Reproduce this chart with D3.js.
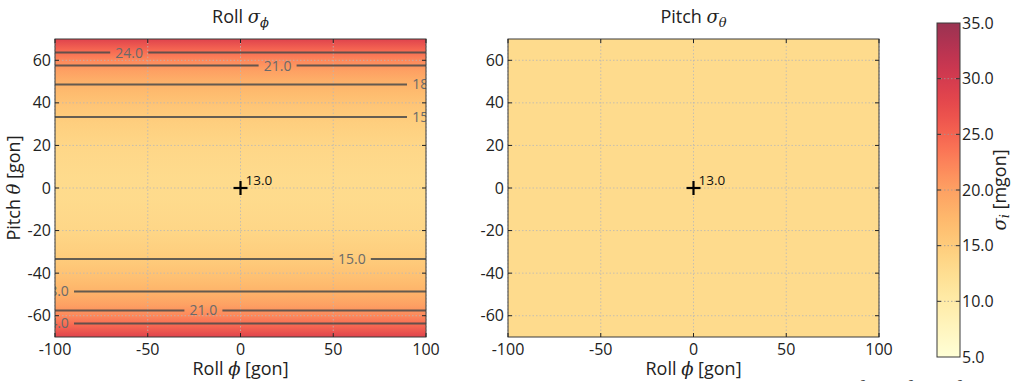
<!DOCTYPE html>
<html>
<head>
<meta charset="utf-8">
<script src="https://cdn.jsdelivr.net/npm/d3@7"></script>
<style>
  body { margin: 0; background: #fff; }
  svg { display: block; }
  text { font-family: "Open Sans", "DejaVu Sans", sans-serif; }
  .math { font-family: "DejaVu Serif", "Liberation Serif", serif; font-style: italic; }
</style>
</head>
<body>
<svg id="chart" width="1014" height="381"></svg>
<script>
// ---------- data ----------
const pitchSamples = [-70, -65, -60, -55, -50, -45, -40, -35, -30, -25, -20, -15, -10, -5, 0,
                      5, 10, 15, 20, 25, 30, 35, 40, 45, 50, 55, 60, 65, 70];
const rollSigma = [28.6, 24.9, 22.1, 20.0, 18.4, 17.1, 16.1, 15.3, 14.6, 14.1, 13.7, 13.4, 13.2, 13.0, 13.0,
                   13.0, 13.2, 13.4, 13.7, 14.1, 14.6, 15.3, 16.1, 17.1, 18.4, 20.0, 22.1, 24.9, 28.6];
const pitchSigma = 13.0;             // uniform field in the right panel
const centerValue = 13.0;            // value at the (0,0) marker
const contourLevels = [15, 18, 21, 24];
const contourPitchUpper = [33.3, 48.6, 57.5, 63.6];
const contourPitchLower = [-33.3, -48.6, -57.5, -63.6];
const labelRollUpper = [100, 100, 20, -60];
const labelRollLower = [60, -100, -20, -100];
const xTicks = [-100, -50, 0, 50, 100];
const yTicks = [-60, -40, -20, 0, 20, 40, 60];
const cbTicks = [5, 10, 15, 20, 25, 30, 35];
const xDomain = [-100, 100];
const yDomain = [-70, 70];
const cDomain = [5, 35];

// ---------- layout ----------
const svg = d3.select("#chart");
const panels = [
  { x0: 55, x1: 426, title: "Roll", sub: "ϕ", kind: "roll" },
  { x0: 508, x1: 879, title: "Pitch", sub: "θ", kind: "pitch" }
];
const yTop = 39, yBot = 337;
const alpha = 0.8;
const color = d3.scaleSequential(d3.interpolateYlOrRd).domain(cDomain);
const y = d3.scaleLinear().domain(yDomain).range([yBot, yTop]);
const defs = svg.append("defs");
const FS = 16;
const LFS = 18;

panels.forEach((p, i) => {
  const x = d3.scaleLinear().domain(xDomain).range([p.x0, p.x1]);
  const g = svg.append("g");
  const clipId = "clip" + i;
  defs.append("clipPath").attr("id", clipId).append("rect")
    .attr("x", p.x0).attr("y", yTop).attr("width", p.x1 - p.x0).attr("height", yBot - yTop);

  // field
  if (p.kind === "roll") {
    const grad = defs.append("linearGradient").attr("id", "grad" + i)
      .attr("gradientUnits", "userSpaceOnUse")
      .attr("x1", 0).attr("x2", 0).attr("y1", y(yDomain[1])).attr("y2", y(yDomain[0]));
    const stops = pitchSamples.map((pv, k) => ({
      off: (y(pv) - y(yDomain[1])) / (y(yDomain[0]) - y(yDomain[1])),
      c: color(rollSigma[k])
    })).sort((a, b) => a.off - b.off);
    stops.forEach(s => grad.append("stop").attr("offset", s.off).attr("stop-color", s.c));
    g.append("rect").attr("x", p.x0).attr("y", yTop).attr("width", p.x1 - p.x0).attr("height", yBot - yTop)
      .attr("fill", `url(#grad${i})`).attr("fill-opacity", alpha);
  } else {
    g.append("rect").attr("x", p.x0).attr("y", yTop).attr("width", p.x1 - p.x0).attr("height", yBot - yTop)
      .attr("fill", color(pitchSigma)).attr("fill-opacity", alpha);
  }

  // grid
  const grid = g.append("g").attr("stroke", "#b8b8b8").attr("stroke-width", 0.8).attr("stroke-dasharray", "1.5,2");
  xTicks.forEach(t => grid.append("line").attr("x1", x(t)).attr("x2", x(t)).attr("y1", yTop).attr("y2", yBot));
  yTicks.forEach(t => grid.append("line").attr("x1", p.x0).attr("x2", p.x1).attr("y1", y(t)).attr("y2", y(t)));

  // contours (roll panel)
  if (p.kind === "roll") {
    const cg = g.append("g").attr("clip-path", `url(#${clipId})`);
    const gap = 19;
    const drawContour = (pv, lv, lr) => {
      const yy = y(pv), lx = x(lr);
      const segs = [[p.x0 - 5, lx - gap], [lx + gap, p.x1 + 5]];
      segs.forEach(s => {
        if (s[1] > s[0]) cg.append("line").attr("x1", s[0]).attr("x2", s[1]).attr("y1", yy).attr("y2", yy)
          .attr("stroke", "#4a4a4a").attr("stroke-opacity", 0.85).attr("stroke-width", 2);
      });
      cg.append("text").attr("x", lx).attr("y", yy).attr("dy", "0.35em").attr("text-anchor", "middle")
        .attr("font-size", 14).attr("fill", "#6a6a6a").text(d3.format(".1f")(lv));
    };
    contourLevels.forEach((lv, k) => {
      drawContour(contourPitchUpper[k], lv, labelRollUpper[k]);
      drawContour(contourPitchLower[k], lv, labelRollLower[k]);
    });
  }

  // frame
  g.append("rect").attr("x", p.x0).attr("y", yTop).attr("width", p.x1 - p.x0).attr("height", yBot - yTop)
    .attr("fill", "none").attr("stroke", "#3a3a3a").attr("stroke-width", 1);

  // ticks inward on all sides
  const tk = g.append("g").attr("stroke", "#222").attr("stroke-width", 1);
  const tl = 4;
  xTicks.forEach(t => {
    tk.append("line").attr("x1", x(t)).attr("x2", x(t)).attr("y1", yBot).attr("y2", yBot - tl);
    tk.append("line").attr("x1", x(t)).attr("x2", x(t)).attr("y1", yTop).attr("y2", yTop + tl);
  });
  yTicks.forEach(t => {
    tk.append("line").attr("x1", p.x0).attr("x2", p.x0 + tl).attr("y1", y(t)).attr("y2", y(t));
    tk.append("line").attr("x1", p.x1).attr("x2", p.x1 - tl).attr("y1", y(t)).attr("y2", y(t));
  });

  // tick labels
  xTicks.forEach(t => g.append("text").attr("x", x(t)).attr("y", yBot + 18).attr("text-anchor", "middle")
    .attr("font-size", FS).attr("fill", "#222").text(d3.format("d")(t).replace("−", "-")));
  yTicks.forEach(t => g.append("text").attr("x", p.x0 - 4).attr("y", y(t)).attr("dy", "0.35em")
    .attr("text-anchor", "end").attr("font-size", FS).attr("fill", "#222").text(d3.format("d")(t).replace("−", "-")));

  // marker
  const cx = x(0), cy = y(0), ms = 7;
  g.append("line").attr("x1", cx - ms).attr("x2", cx + ms).attr("y1", cy).attr("y2", cy).attr("stroke", "#000").attr("stroke-width", 2.2);
  g.append("line").attr("x1", cx).attr("x2", cx).attr("y1", cy - ms).attr("y2", cy + ms).attr("stroke", "#000").attr("stroke-width", 2.2);
  g.append("text").attr("x", cx + 5).attr("y", cy - 3).attr("font-size", 13.5).attr("fill", "#111")
    .text(d3.format(".1f")(centerValue));

  // title
  const tt = g.append("text").attr("x", (p.x0 + p.x1) / 2).attr("y", 23).attr("text-anchor", "middle")
    .attr("font-size", LFS).attr("fill", "#222");
  tt.append("tspan").text(p.title + " ");
  tt.append("tspan").attr("class", "math").text("σ");
  tt.append("tspan").attr("class", "math").attr("font-size", 13).attr("dy", 4).text(p.sub);

  // x label
  const xl = g.append("text").attr("x", (p.x0 + p.x1) / 2).attr("y", 375).attr("text-anchor", "middle")
    .attr("font-size", LFS).attr("fill", "#222");
  xl.append("tspan").text("Roll ");
  xl.append("tspan").attr("class", "math").text("ϕ");
  xl.append("tspan").text(" [gon]");

  if (i === 0) {
    const yl = g.append("text").attr("transform", `translate(20,${(yTop + yBot) / 2}) rotate(-90)`)
      .attr("text-anchor", "middle").attr("font-size", LFS).attr("fill", "#222");
    yl.append("tspan").text("Pitch ");
    yl.append("tspan").attr("class", "math").text("θ");
    yl.append("tspan").text(" [gon]");
  }
});

// ---------- colorbar ----------
const cbX = 937, cbW = 23, cbTop = 23, cbBot = 357;
const cy2 = d3.scaleLinear().domain(cDomain).range([cbBot, cbTop]);
const cbGrad = defs.append("linearGradient").attr("id", "cbgrad").attr("gradientUnits", "userSpaceOnUse")
  .attr("x1", 0).attr("x2", 0).attr("y1", cbBot).attr("y2", cbTop);
d3.range(0, 1.0001, 0.02).forEach(f => {
  cbGrad.append("stop").attr("offset", f).attr("stop-color", color(cDomain[0] + f * (cDomain[1] - cDomain[0])));
});
svg.append("rect").attr("x", cbX).attr("y", cbTop).attr("width", cbW).attr("height", cbBot - cbTop)
  .attr("fill", "url(#cbgrad)").attr("fill-opacity", alpha);
const cbg = svg.append("g");
cbTicks.slice(1, -1).forEach(t => {
  cbg.append("line").attr("x1", cbX).attr("x2", cbX + cbW).attr("y1", cy2(t)).attr("y2", cy2(t))
    .attr("stroke", "#999").attr("stroke-width", 0.8).attr("stroke-dasharray", "1.5,2");
  cbg.append("line").attr("x1", cbX).attr("x2", cbX + 4).attr("y1", cy2(t)).attr("y2", cy2(t)).attr("stroke", "#333");
  cbg.append("line").attr("x1", cbX + cbW - 4).attr("x2", cbX + cbW).attr("y1", cy2(t)).attr("y2", cy2(t)).attr("stroke", "#333");
});
svg.append("rect").attr("x", cbX).attr("y", cbTop).attr("width", cbW).attr("height", cbBot - cbTop)
  .attr("fill", "none").attr("stroke", "#3a3a3a").attr("stroke-width", 1);
cbTicks.forEach(t => cbg.append("text").attr("x", cbX + cbW + 2).attr("y", cy2(t)).attr("dy", "0.35em")
  .attr("font-size", FS).attr("fill", "#222").text(d3.format(".1f")(t)));
const cl = svg.append("text").attr("transform", `translate(1006,${(cbTop + cbBot) / 2}) rotate(-90)`)
  .attr("text-anchor", "middle").attr("font-size", LFS).attr("fill", "#222");
cl.append("tspan").attr("class", "math").text("σ");
cl.append("tspan").attr("class", "math").attr("font-size", 13).attr("dy", 3).text("i");
cl.append("tspan").attr("dy", -3).text(" [mgon]");

// cut-off superscripts at the bottom edge
[860, 908, 957].forEach(xx => svg.append("text").attr("x", xx).attr("y", 388).attr("text-anchor", "middle")
  .attr("font-size", 11).attr("fill", "#333").text("−2"));
</script>
</body>
</html>
